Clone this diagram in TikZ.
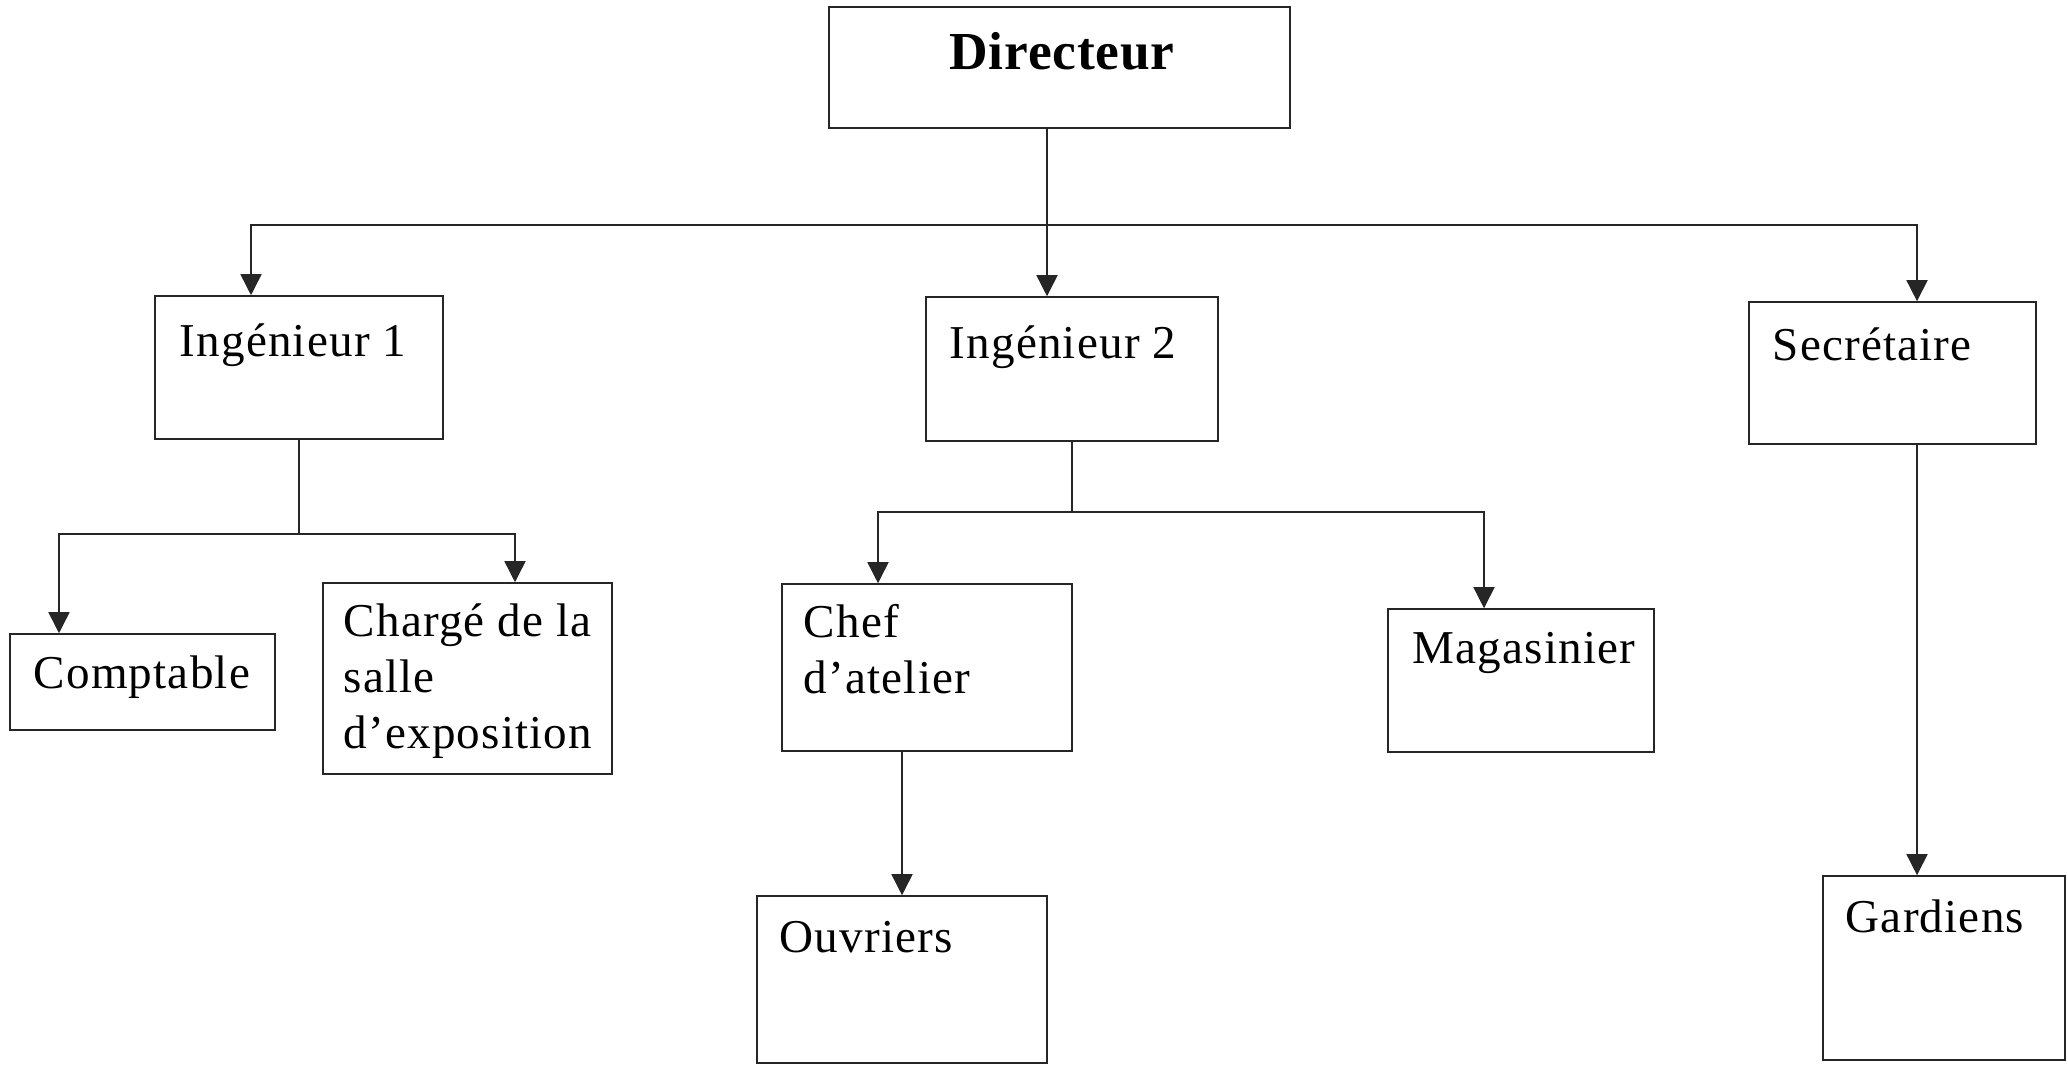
\documentclass[tikz,border=0pt]{standalone}
\usepackage{fontspec}
\setmainfont{Liberation Serif}
\usetikzlibrary{arrows.meta,fit}
\begin{document}
\begin{tikzpicture}[x=0.025cm,y=-0.025cm,
  line width=1.1pt,
  box/.style={draw=black!85,line width=1.1pt,inner sep=0pt},
  txt/.style={inner sep=0pt,anchor=base west,align=left,
    font=\fontsize{33.5}{39.5}\selectfont\addfontfeatures{LetterSpace=2.5}},
  title/.style={inner sep=0pt,anchor=base,
    font=\fontsize{38}{45}\selectfont\bfseries\addfontfeatures{LetterSpace=1.5}},
  arr/.style={-{Triangle[width=15pt,length=15pt]}},
  conn/.style={draw=black!85}]
\useasboundingbox (0,0) rectangle (2068,1064);

% boxes
\node[box,fit={(829,7) (1290,128)}] (dir) {};
\node[box,fit={(155,296) (443,439)}] (ing1) {};
\node[box,fit={(926,297) (1218,441)}] (ing2) {};
\node[box,fit={(1749,302) (2036,444)}] (secr) {};
\node[box,fit={(10,634) (275,730)}] (compt) {};
\node[box,fit={(323,583) (612,774)}] (charge) {};
\node[box,fit={(782,584) (1072,751)}] (chef) {};
\node[box,fit={(1388,609) (1654,752)}] (mag) {};
\node[box,fit={(757,896) (1047,1063)}] (ouv) {};
\node[box,fit={(1823,876) (2065,1060)}] (gard) {};

% texts
\node[title] (tdir) at (1062,70) {Directeur};
\node[txt] (ting1) at (179,356) {Ingénieur 1};
\node[txt] (ting2) at (949,358) {Ingénieur 2};
\node[txt] (tsecr) at (1772,360) {Secrétaire};
\node[txt] (tcompt) at (33,688) {Comptable};
\node[txt] (tcharge) at (343,748) {Chargé de la\\salle\\d’exposition};
\node[txt] (tchef) at (803,693) {Chef\\d’atelier};
\node[txt] (tmag) at (1412,663) {Magasinier};
\node[txt] (touv) at (779,952) {Ouvriers};
\node[txt] (tgard) at (1845,932) {Gardiens};

% junctions and columns
\coordinate (j0) at (1047,225);
\coordinate (k1) at (251,225);
\coordinate (k3) at (1917,225);
\coordinate (j1) at (299,534);
\coordinate (k4) at (59,534);
\coordinate (k5) at (515,534);
\coordinate (j2) at (1072,512);
\coordinate (k6) at (878,512);
\coordinate (k7) at (1484,512);
\coordinate (k8) at (902,0);

% connectors
\draw[conn] (dir.south -| j0) -- (j0);
\draw[conn,arr] (j0) -- (j0 |- ing2.north);
\draw[conn,arr] (j0) -| (k1 |- ing1.north);
\draw[conn,arr] (j0) -| (k3 |- secr.north);

\draw[conn] (ing1.south) -- (j1);
\draw[conn,arr] (j1) -| (k4 |- compt.north);
\draw[conn,arr] (j1) -| (k5 |- charge.north);

\draw[conn] (ing2.south) -- (j2);
\draw[conn,arr] (j2) -| (k6 |- chef.north);
\draw[conn,arr] (j2) -| (k7 |- mag.north);

\draw[conn,arr] (k8 |- chef.south) -- (k8 |- ouv.north);
\draw[conn,arr] (k3 |- secr.south) -- (k3 |- gard.north);
\end{tikzpicture}
\end{document}
